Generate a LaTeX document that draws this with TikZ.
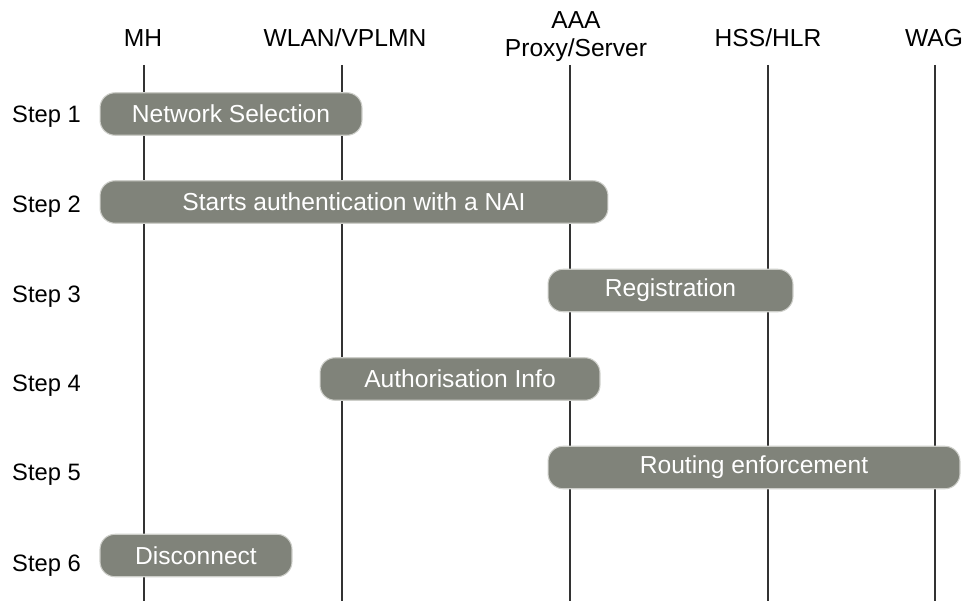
\documentclass[tikz,border=0pt]{standalone}
\usepackage{fontspec}
\setmainfont{Liberation Sans}
\usepackage{tikz}
\usetikzlibrary{positioning,calc}
\definecolor{boxgray}{RGB}{128,131,122}
\definecolor{boxedge}{RGB}{205,206,201}
\tikzset{
  actor/.style={font=\fontsize{14}{16}\selectfont, align=center},
  steplabel/.style={font=\fontsize{13.5}{16}\selectfont, anchor=west},
  lifeline/.style={line width=0.6pt, black!80},
  phase/.style={draw=boxedge, line width=0.6pt, fill=boxgray, text=white,
    rounded corners=0.3cm, minimum height=0.85cm, inner sep=0pt,
    font=\fontsize{14}{16}\selectfont}
}
\begin{document}
\begin{tikzpicture}[x=0.02cm, y=-0.02cm]
        \useasboundingbox (0,0) rectangle (969,601);
        % Entities
        \node[actor] (mh)   at (143,38) {MH};
        \node[actor] (wlan) at (345,38) {WLAN/VPLMN};
        \node[actor] (aaa)  at (576,37) {AAA\\Proxy/Server};
        \node[actor] (hss)  at (768,38) {HSS/HLR};
        \node[actor] (wag)  at (934,38) {WAG};
        % Lifelines
        \foreach \name/\x in {mh/144, wlan/342, aaa/570, hss/768, wag/935} {
            \coordinate (\name-top) at (\x,65);
            \coordinate (\name-bot) at (\x,601);
            \draw[lifeline] (\name-top) -- (\name-bot);
        }
        % Steps
        \node[steplabel] (s1) at (6,117) {Step 1};
        \node[steplabel] (s2) at (6,207) {Step 2};
        \node[steplabel] (s3) at (6,297) {Step 3};
        \node[steplabel] (s4) at (6,386) {Step 4};
        \node[steplabel] (s5) at (6,475) {Step 5};
        \node[steplabel] (s6) at (6,566) {Step 6};
        % Phases
        \node[phase, minimum width=5.24cm]  (netsel) at (231,114)   {Network Selection};
        \node[phase, minimum width=10.16cm] (auth)   at (354,202)   {Starts authentication with a NAI};
        \node[phase, minimum width=4.9cm]   (reg)    at (670.5,290.5) {Registration};
        \node[phase, minimum width=5.6cm]   (authz)  at (460,379)   {Authorisation Info};
        \node[phase, minimum width=8.24cm]  (route)  at (754,467.5) {Routing enforcement};
        \node[phase, minimum width=3.84cm]  (disc)   at (196,555.5) {Disconnect};
\end{tikzpicture}
\end{document}
